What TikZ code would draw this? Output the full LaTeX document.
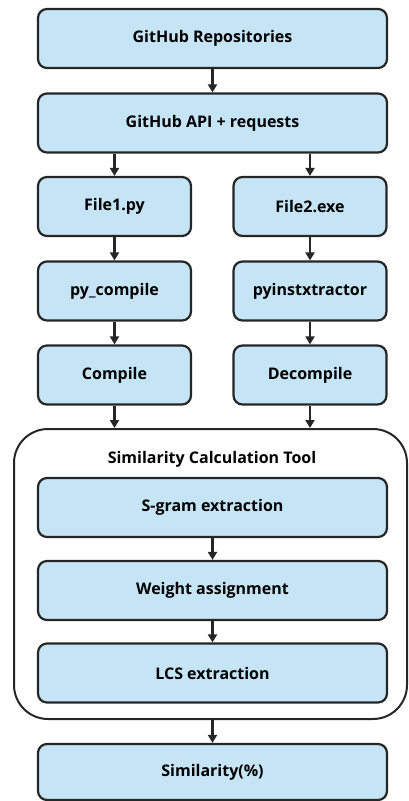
\documentclass[tikz,border=0pt]{standalone}
\usepackage{fontspec}
\setmainfont{Open Sans}
\usepackage{tikz}
\usetikzlibrary{arrows.meta,positioning}
\definecolor{boxfill}{HTML}{C5E4F5}
\definecolor{boxline}{HTML}{262626}
\tikzset{
  every picture/.append style={line cap=round,line join=round},
  flow box/.style={draw=boxline,fill=boxfill,line width=2.2pt,rounded corners=9pt,
    minimum height=59pt,align=center,font=\fontsize{16}{18}\selectfont\bfseries},
  wide box/.style={flow box,minimum width=349pt},
  half box/.style={flow box,minimum width=153pt},
  tool frame/.style={draw=boxline,line width=2pt,rounded corners=34pt},
  flow arrow/.style={draw=boxline,line width=2.4pt,line cap=butt,-{Triangle[length=8pt,width=9pt]}},
  frame title/.style={font=\fontsize{16}{18}\selectfont\bfseries}
}

\begin{document}
\begin{tikzpicture}[x=1pt,y=1pt]
  \useasboundingbox (0,0) rectangle (408,-801);
  % top of the pipeline
  \node[wide box] (repo) at (212.5,-38.5) {GitHub Repositories};
  \node[wide box] (api) at (212.5,-123) {GitHub API + requests};
  % two branches
  \node[half box] (file1) at (114.5,-206.5) {File1.py};
  \node[half box] (file2) at (310,-206.5) {File2.exe};
  \node[half box] (pycomp) at (114.5,-291) {py\_compile};
  \node[half box] (pyinst) at (310,-291) {pyinstxtractor};
  \node[half box] (comp) at (114.5,-375) {Compile};
  \node[half box] (decomp) at (310,-375) {Decompile};
  % similarity tool
  \node[tool frame,minimum width=393pt,minimum height=290pt] (tool) at (210.5,-574) {};
  \node[frame title] (tooltitle) at (212,-459) {Similarity Calculation Tool};
  \node[wide box] (sgram) at (212.5,-507.5) {S-gram extraction};
  \node[wide box] (weight) at (212.5,-590.5) {Weight assignment};
  \node[wide box] (lcs) at (212.5,-673) {LCS extraction};
  \node[wide box,minimum height=56pt] (simil) at (212.5,-772) {Similarity(\%)};
  % connectors
  \draw[flow arrow] (repo) -- (api);
  \draw[flow arrow] (api.south -| file1) -- (file1);
  \draw[flow arrow] (api.south -| file2) -- (file2);
  \draw[flow arrow] (file1) -- (pycomp);
  \draw[flow arrow] (file2) -- (pyinst);
  \draw[flow arrow] (pycomp) -- (comp);
  \draw[flow arrow] (pyinst) -- (decomp);
  \draw[flow arrow] (comp) -- (comp |- tool.north);
  \draw[flow arrow] (decomp) -- (decomp |- tool.north);
  \draw[flow arrow] (sgram) -- (weight);
  \draw[flow arrow] (weight) -- (lcs);
  \draw[flow arrow] (tool.south -| simil) -- (simil);
\end{tikzpicture}
\end{document}
